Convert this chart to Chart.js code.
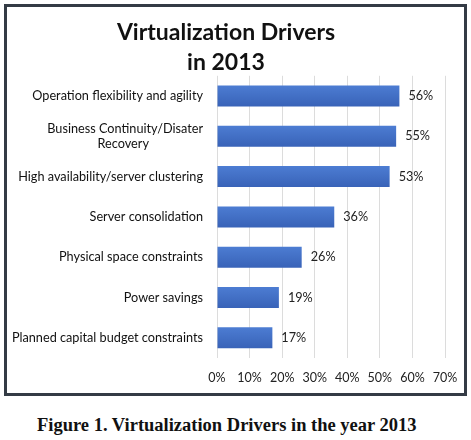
<!DOCTYPE html>
<html>
<head>
<meta charset="utf-8">
<script src="https://cdn.jsdelivr.net/npm/chart.js@4.4.0/dist/chart.umd.min.js"></script>
<style>
  body { margin: 0; background: #fff; width: 471px; height: 440px; position: relative; }
  #frame { position: absolute; left: 4px; top: 4px; width: 457px; height: 386px; border: 3px solid #343b45; }
  #caption { position: absolute; left: 37px; top: 415px; white-space: nowrap;
    font-family: "Liberation Serif", "Times New Roman", serif; font-weight: bold; font-size: 18.5px; color: #111; }
</style>
</head>
<body>
<div id="frame"><canvas id="driversChart" width="457" height="386"></canvas></div>
<div id="caption">Figure 1. Virtualization Drivers in the year 2013</div>
<script>
// Data
const drivers = [
  "Operation flexibility and agility",
  ["Business Continuity/Disater", "Recovery\u2003\u2003\u2003\u2003\u2003  "],
  "High availability/server clustering",
  "Server consolidation",
  "Physical space constraints",
  "Power savings",
  "Planned capital budget constraints",
];
const shares = [56, 55, 53, 36, 26, 19, 17];
const xTicks = [0, 10, 20, 30, 40, 50, 60, 70];

// value labels at the end of each bar
const barLabels = {
  id: "barLabels",
  afterDatasetsDraw(chart) {
    const ctx = chart.ctx;
    const meta = chart.getDatasetMeta(0);
    ctx.save();
    ctx.font = "12.7px Lato";
    ctx.fillStyle = "#222";
    ctx.textBaseline = "middle";
    meta.data.forEach((bar, i) => {
      ctx.fillText(shares[i] + "%", bar.x + 9, bar.y);
    });
    ctx.restore();
  },
};

// excel-like shading, lighter on top of each bar
function barFill(c) {
  const yScale = c.chart.scales.y;
  if (!yScale || c.dataIndex === undefined) return "#4170c8";
  const mid = yScale.getPixelForValue(c.dataIndex);
  if (!Number.isFinite(mid)) return "#4170c8";
  const g = c.chart.ctx.createLinearGradient(0, mid - 11, 0, mid + 11);
  g.addColorStop(0, "#4d7dd3");
  g.addColorStop(1, "#3862b7");
  return g;
}

const driversEl = document.getElementById("driversChart");
if (driversEl) {
  const driversCtx = driversEl.getContext("2d");
  new Chart(driversCtx, {
    type: "bar",
    data: {
      labels: drivers,
      datasets: [
        {
          data: shares,
          backgroundColor: barFill,
          borderWidth: 0,
          categoryPercentage: 1,
          barPercentage: 0.52,
        },
      ],
    },
    options: {
      indexAxis: "y",
      responsive: false,
      animation: false,
      layout: { padding: { top: 11, right: 19, left: 0, bottom: 8 } },
      plugins: {
        legend: { display: false },
        tooltip: { enabled: false },
        title: {
          display: true,
          text: ["Virtualization Drivers", "in 2013"],
          color: "#111",
          font: { family: "Lato", size: 23, weight: "bold", lineHeight: 1.3 },
          padding: { top: 0, bottom: -2 },
        },
      },
      scales: {
        x: {
          min: 0,
          max: 70,
          afterBuildTicks(scale) {
            scale.ticks = xTicks.map((v) => ({ value: v }));
          },
          afterFit(scale) {
            scale.height = 27;
            scale.paddingLeft = 0;
            scale.paddingRight = 0;
          },
          grid: { color: "#dcdcdc", drawTicks: false },
          border: { display: false },
          ticks: {
            padding: 12,
            maxRotation: 0,
            minRotation: 0,
            color: "#222",
            font: { family: "Lato", size: 12.5 },
            callback: (v) => v + "%",
          },
        },
        y: {
          afterFit(scale) {
            scale.width = 210;
          },
          grid: { display: false, drawTicks: false },
          border: { display: false },
          ticks: {
            padding: 14,
            color: "#111",
            font: { family: "Lato", size: 12.7 },
          },
        },
      },
    },
    plugins: [barLabels],
  });
}
</script>
</body>
</html>
